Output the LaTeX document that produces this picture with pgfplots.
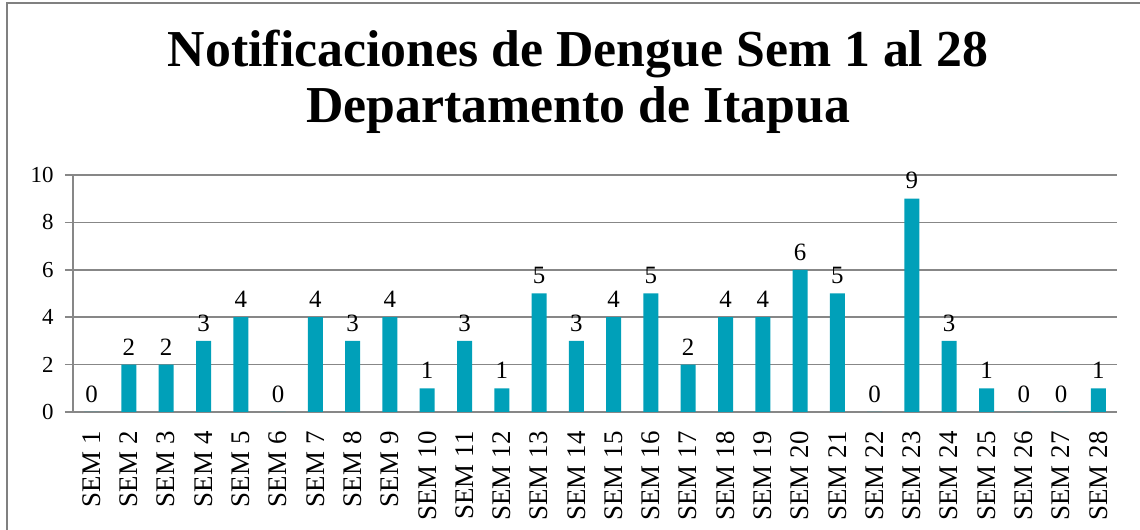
\documentclass[border=0pt]{standalone}
\usepackage{fontspec}
\setmainfont{Liberation Serif}
\usepackage{pgfplots}
\pgfplotsset{compat=1.18}
\definecolor{barc}{RGB}{0,160,185}
\definecolor{gridc}{RGB}{135,135,135}
\definecolor{framec}{RGB}{128,128,128}
\begin{document}
\begin{tikzpicture}[x=1bp,y=1bp]
\useasboundingbox (-73,-118) rectangle (1067,412);
\draw[framec,line width=1.5bp] (-66,-130) -- (-66,409) -- (1080,409);
\begin{axis}[
  at={(0,0)}, anchor=origin,
  scale only axis, width=1044bp, height=237bp,
  xmin=0.5, xmax=28.5, ymin=0, ymax=10,
  ytick={0,2,4,6,8,10},
  xtick={1,...,28},
  xticklabels={SEM 1,SEM 2,SEM 3,SEM 4,SEM 5,SEM 6,SEM 7,SEM 8,SEM 9,SEM 10,SEM 11,SEM 12,SEM 13,SEM 14,SEM 15,SEM 16,SEM 17,SEM 18,SEM 19,SEM 20,SEM 21,SEM 22,SEM 23,SEM 24,SEM 25,SEM 26,SEM 27,SEM 28},
  x tick label style={rotate=90, anchor=east, font=\fontsize{27}{29}\selectfont},
  y tick label style={font=\fontsize{23}{25}\selectfont},
  /pgf/number format/assume math mode=true,
  major x tick style={draw=none},
  extra x ticks={0.5,1.5,...,28.5},
  extra x tick labels={},
  extra x tick style={major tick length=8bp, tick align=outside, tick style={draw=gridc, line width=1.5bp}, grid=none},
  ytick style={draw=gridc, line width=1.5bp},
  major tick length=8bp, tick align=outside,
  ymajorgrids, major grid style={draw=gridc, line width=1.5bp},
  axis x line*=bottom, axis y line*=left,
  axis line style={draw=gridc, line width=1.5bp},
  x axis line style={-}, y axis line style={-},
  xticklabel shift=8bp, yticklabel shift=8bp,
  clip=false,
]
\addplot[ybar, bar width=15bp, fill=barc, draw=none,
  nodes near coords, every node near coord/.append style={font=\fontsize{25}{27}\selectfont, black, yshift=6bp}]
coordinates {(1,0)(2,2)(3,2)(4,3)(5,4)(6,0)(7,4)(8,3)(9,4)(10,1)(11,3)(12,1)(13,5)(14,3)(15,4)(16,5)(17,2)(18,4)(19,4)(20,6)(21,5)(22,0)(23,9)(24,3)(25,1)(26,0)(27,0)(28,1)};
\end{axis}
\node[align=center, font=\bfseries\fontsize{52}{56}\selectfont] at (505,330) {Notificaciones de Dengue Sem 1 al 28\\Departamento de Itapua};
\end{tikzpicture}
\end{document}
